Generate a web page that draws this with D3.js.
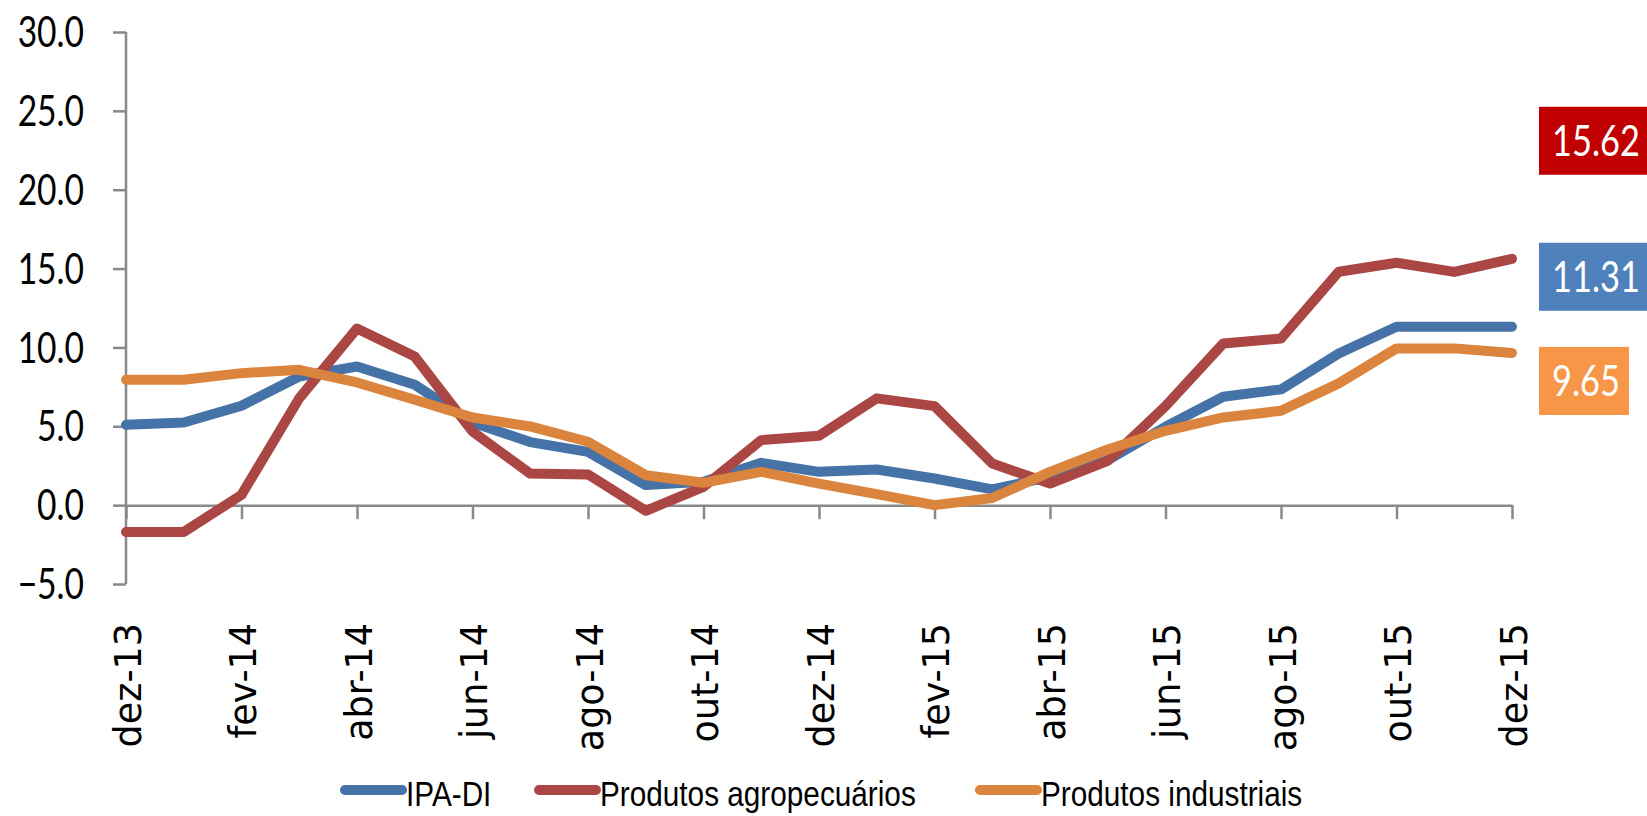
<!DOCTYPE html>
<html>
<head>
<meta charset="utf-8">
<script src="https://cdn.jsdelivr.net/npm/d3@7"></script>
<style>
  body { margin: 0; background: #fff; }
  svg { display: block; }
</style>
</head>
<body>
<svg id="chart" width="1647" height="816"></svg>
<script>

let months = ["dez-13","jan-14","fev-14","mar-14","abr-14","mai-14","jun-14","jul-14","ago-14","set-14","out-14","nov-14",
              "dez-14","jan-15","fev-15","mar-15","abr-15","mai-15","jun-15","jul-15","ago-15","set-15","out-15","nov-15","dez-15"];

let ipaDI = [5.09,5.24,6.3,8.16,8.79,7.63,5.24,4.0,3.38,1.27,1.48,2.68,2.11,2.26,1.69,1.0,1.8,2.85,4.97,6.87,7.34,9.62,11.31,11.31,11.31];
let agro = [-1.7,-1.7,0.65,6.78,11.2,9.42,4.67,2.0,1.95,-0.36,1.16,4.12,4.4,6.77,6.28,2.64,1.37,2.81,6.28,10.25,10.57,14.8,15.37,14.79,15.62];
let indus = [7.95,7.95,8.37,8.58,7.78,6.68,5.56,4.99,4.02,1.9,1.42,2.11,1.37,0.7,0.0,0.45,2.11,3.53,4.71,5.56,5.98,7.72,9.94,9.94,9.65];

let yTicks = [-5,0,5,10,15,20,25,30];
let seriesNames = ["IPA-DI","Produtos agropecuários","Produtos industriais"];
let endLabels = ["11.31","15.62","9.65"];

let lineColors = ["#4572A7","#AA4643","#DB843D"];
let boxColors = ["#4F81BD","#C00000","#F79646"];

let series = [ipaDI, agro, indus];

let svg = d3.select("#chart");

let x = d3.scalePoint()
          .domain(months)
          .range([126, 1512]);

let y = d3.scaleLinear()
          .domain([-5, 30])
          .range([584, 32]);

let axisColor = "#898989";

// y axis
let yAxis = svg.append("g")
               .attr("transform", "translate(126,0)")
               .call(d3.axisLeft(y).tickValues(yTicks).tickSize(13).tickFormat(d3.format(".1f")));

yAxis.select(".domain").remove();
yAxis.selectAll(".tick line")
     .attr("stroke", axisColor)
     .attr("stroke-width", 2.5);
yAxis.selectAll(".tick text").remove();

svg.append("line")
   .attr("x1", 126).attr("x2", 126)
   .attr("y1", y(30)).attr("y2", y(-5))
   .attr("stroke", axisColor)
   .attr("stroke-width", 2.5);

// y labels, narrow like the original
svg.append("g")
   .selectAll("text")
   .data(yTicks)
   .enter()
   .append("text")
   .attr("transform", (d)=> "translate(84," + y(d) + ") scale(0.8,1)")
   .attr("dy", "0.36em")
   .attr("text-anchor", "end")
   .style("font-family", "Lato, sans-serif")
   .style("font-size", "42px")
   .style("fill", "#000")
   .text((d)=> d3.format(".1f")(d));

// x axis on zero
let xAxis = svg.append("g")
               .attr("transform", "translate(0," + y(0) + ")")
               .call(d3.axisBottom(x)
                       .tickValues(months.filter((d,i)=> i % 2 == 0))
                       .tickSize(14)
                       .tickSizeOuter(0));

xAxis.select(".domain")
     .attr("stroke", axisColor)
     .attr("stroke-width", 2.5);
xAxis.selectAll(".tick line")
     .attr("stroke", axisColor)
     .attr("stroke-width", 2.5);
xAxis.selectAll(".tick text").remove();

svg.append("g")
   .selectAll("text")
   .data(months.filter((d,i)=> i % 2 == 0))
   .enter()
   .append("text")
   .attr("transform", (d)=> "translate(" + x(d) + ",623) rotate(-90)")
   .attr("dy", "0.4em")
   .attr("text-anchor", "end")
   .style("font-family", "DejaVu Sans, sans-serif")
   .style("font-size", "36.5px")
   .style("fill", "#000")
   .text((d)=> d);

// lines
let line = d3.line()
             .x((d,i)=> x(months[i]))
             .y((d)=> y(d));

svg.append("g")
   .selectAll("path")
   .data(series)
   .enter()
   .append("path")
   .attr("d", (d)=> line(d))
   .attr("fill", "none")
   .attr("stroke", (d,i)=> lineColors[i])
   .attr("stroke-width", 10)
   .attr("stroke-linejoin", "round")
   .attr("stroke-linecap", "round");

// end value boxes
let boxOffset = [-50, -118, 28];

let boxes = svg.append("g")
               .selectAll("g")
               .data(series)
               .enter()
               .append("g")
               .attr("transform", (d,i)=> "translate(1539," + (y(d[d.length-1]) + boxOffset[i]) + ")");

let boxText = boxes.append("text")
                   .attr("transform", "translate(13,0) scale(0.8,1)")
                   .attr("dy", "0.36em")
                   .style("font-family", "Lato, sans-serif")
                   .style("font-size", "43px")
                   .style("fill", "#fff")
                   .text((d,i)=> endLabels[i]);

boxes.insert("rect", "text")
     .attr("x", 0)
     .attr("y", -34)
     .attr("height", 68)
     .attr("width", function(d,i){
       let w = boxText.nodes()[i].getBBox().width * 0.8;
       return w + 22;
     })
     .style("fill", (d,i)=> boxColors[i]);

// legend
let legendX = [345, 539, 980];

let legend = svg.append("g")
                .selectAll("g")
                .data(seriesNames)
                .enter()
                .append("g")
                .attr("transform", (d,i)=> "translate(" + legendX[i] + ",790)");

legend.append("line")
      .attr("x1", 0).attr("x2", 57)
      .attr("y1", 0).attr("y2", 0)
      .attr("stroke", (d,i)=> lineColors[i])
      .attr("stroke-width", 10)
      .attr("stroke-linecap", "round");

legend.append("text")
      .attr("transform", "translate(61,16) scale(0.85,1)")
      .style("font-family", "Liberation Sans, Arial, sans-serif")
      .style("font-size", "35px")
      .style("fill", "#000")
      .text((d)=> d);

</script>
</body>
</html>
